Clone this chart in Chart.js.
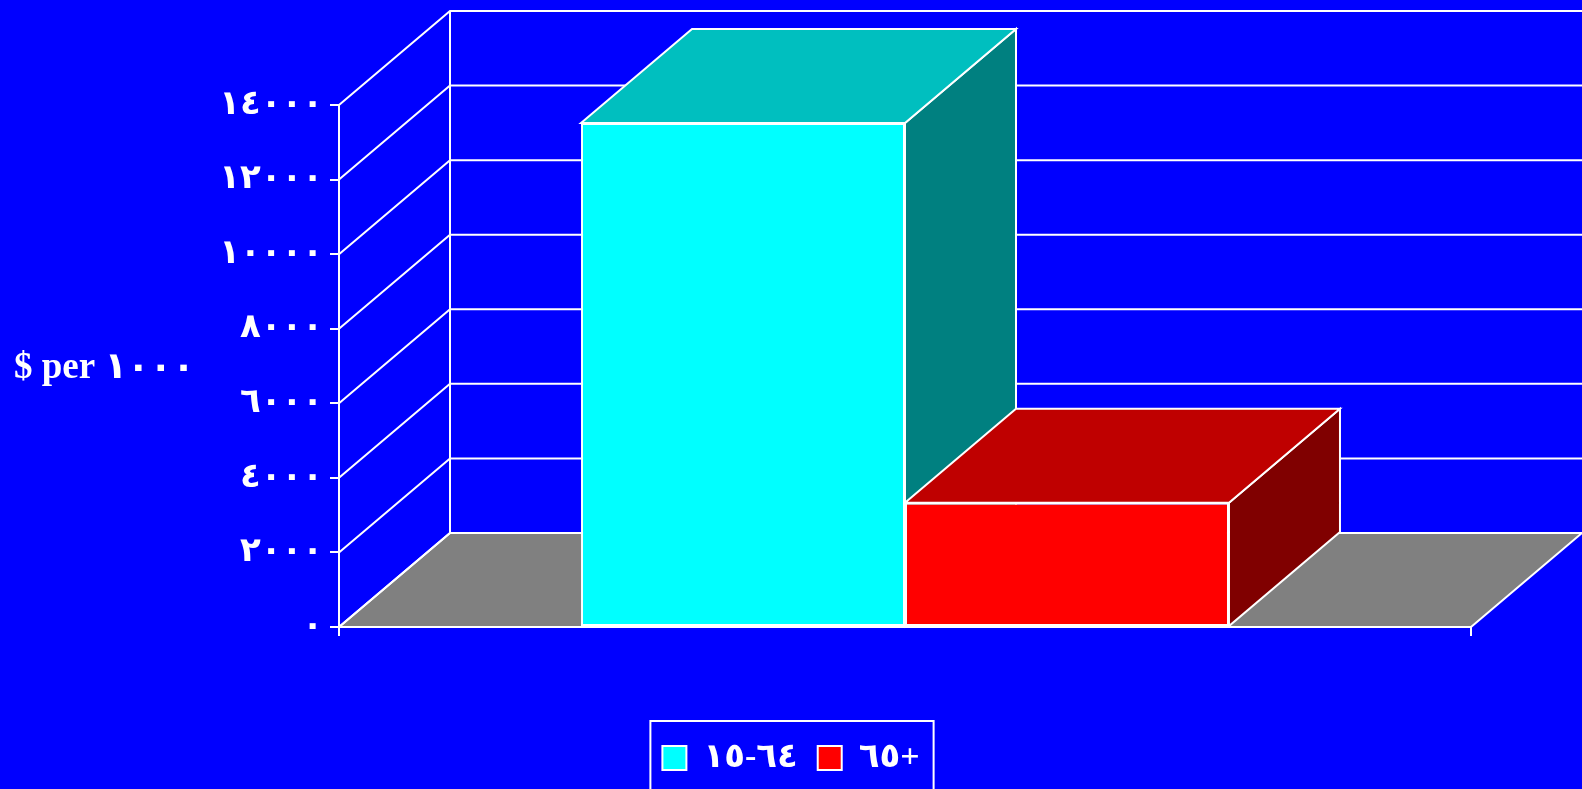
<!DOCTYPE html>
<html>
<head>
<meta charset="utf-8">
<script src="https://cdn.jsdelivr.net/npm/chart.js@4/dist/chart.umd.min.js"></script>
<style>
    html, body { margin: 0; padding: 0; background: #0000ff; }
    #wrap { width: 1582px; height: 789px; position: relative; }
</style>
</head>
<body>
<div id="wrap"><canvas id="chart"></canvas></div>
<script>
    const categories = [''];
    // LRM keeps the range reading left to right
    const seriesNames = ['١٥\u200E-\u200E٦٤', '٦٥+'];
    const seriesValues = [[13520], [3330]];
    const frontColors = ['#00ffff', '#ff0000'];
    const topColors = ['#00bfbf', '#bf0000'];
    const sideColors = ['#008080', '#800000'];
    const yMax = 14000;
    const yStep = 2000;
    const yTitle = '$ per ١٠٠٠';

    const font = "'Liberation Serif', 'DejaVu Sans', serif";
    const depthX = 111;
    const depthY = 94;

    function arabic_digits(n) {
        return String(n).replace(/\d/g, d => '٠١٢٣٤٥٦٧٨٩'[d]);
    }

    function poly(ctx, pts, fill) {
        ctx.beginPath();
        ctx.moveTo(pts[0][0], pts[0][1]);
        for (let i = 1; i < pts.length; i++) {
            ctx.lineTo(pts[i][0], pts[i][1]);
        }
        ctx.closePath();
        if (fill) {
            ctx.fillStyle = fill;
            ctx.fill();
        }
        ctx.stroke();
    }

    // floor, back wall and the top/side faces of the bars
    const box3d = {
        id: 'box3d',
        beforeDatasetsDraw(chart) {
            const ctx = chart.ctx;
            const a = chart.chartArea;
            const y = chart.scales.y;
            const y0 = y.getPixelForValue(0);

            ctx.save();
            ctx.strokeStyle = '#ffffff';
            ctx.lineWidth = 2;

            // floor
            poly(ctx, [[a.left, y0], [a.right, y0], [a.right + depthX, y0 - depthY], [a.left + depthX, y0 - depthY]], '#808080');

            // wall lines
            ctx.beginPath();
            ctx.moveTo(a.left + depthX, y0 - depthY);
            ctx.lineTo(a.left + depthX, y.getPixelForValue(yMax) - depthY);
            for (let v = 0; v <= yMax; v += yStep) {
                const py = y.getPixelForValue(v);
                ctx.moveTo(a.left, py);
                ctx.lineTo(a.left + depthX, py - depthY);
                ctx.lineTo(chart.width, py - depthY);
            }
            ctx.stroke();

            // bar tops and sides
            for (let i = 0; i < chart.data.datasets.length; i++) {
                const meta = chart.getDatasetMeta(i);
                meta.data.forEach(bar => {
                    const l = bar.x - bar.width / 2;
                    const r = bar.x + bar.width / 2;
                    poly(ctx, [[r, bar.y], [r + depthX, bar.y - depthY], [r + depthX, bar.base - depthY], [r, bar.base]], sideColors[i]);
                    poly(ctx, [[l, bar.y], [r, bar.y], [r + depthX, bar.y - depthY], [l + depthX, bar.y - depthY]], topColors[i]);
                });
            }
            ctx.restore();
        },
        afterDraw(chart) {
            const ctx = chart.ctx;
            ctx.save();
            // axis title, not rotated
            ctx.fillStyle = '#ffffff';
            ctx.font = 'bold 37px ' + font;
            ctx.textBaseline = 'middle';
            ctx.textAlign = 'left';
            ctx.fillText(yTitle, 14, 368);

            // frame round the legend
            const boxes = chart.legend.legendHitBoxes;
            if (boxes && boxes.length) {
                const left = Math.min(...boxes.map(b => b.left)) - 12;
                const right = Math.max(...boxes.map(b => b.left + b.width)) + 14;
                const top = boxes[0].top - 20;
                ctx.strokeStyle = '#ffffff';
                ctx.lineWidth = 2;
                ctx.strokeRect(left, top, right - left, 200);
            }
            ctx.restore();
        }
    };

    const datasets = seriesNames.map((name, i) => ({
        label: name,
        data: seriesValues[i],
        backgroundColor: frontColors[i],
        borderColor: '#ffffff',
        borderWidth: 2,
        borderSkipped: false
    }));

    new Chart(document.getElementById('chart'), {
        type: 'bar',
        data: { labels: categories, datasets: datasets },
        options: {
            responsive: true,
            maintainAspectRatio: false,
            animation: false,
            layout: { padding: { left: 111, right: 111, top: 105, bottom: 4 } },
            datasets: { bar: { categoryPercentage: 0.5724, barPercentage: 1 } },
            plugins: {
                tooltip: { enabled: false },
                legend: {
                    position: 'bottom',
                    labels: {
                        color: '#ffffff',
                        font: { family: font, size: 34, weight: 'bold', lineHeight: 1 },
                        boxWidth: 24,
                        boxHeight: 24,
                        padding: 20
                    }
                }
            },
            scales: {
                x: {
                    offset: true,
                    grid: { offset: true, drawOnChartArea: false, color: '#ffffff', lineWidth: 2, tickLength: 9 },
                    border: { color: '#ffffff', width: 2 },
                    ticks: { display: false },
                    afterFit: s => { s.height = 94; }
                },
                y: {
                    min: 0,
                    max: yMax,
                    ticks: {
                        stepSize: yStep,
                        color: '#ffffff',
                        padding: 7,
                        font: { family: font, size: 34, weight: 'bold' },
                        callback: v => arabic_digits(v)
                    },
                    grid: { drawOnChartArea: false, color: '#ffffff', lineWidth: 2, tickLength: 9 },
                    border: { color: '#ffffff', width: 2 },
                    afterFit: s => { s.width = 228; }
                }
            }
        },
        plugins: [box3d]
    });
</script>
</body>
</html>
